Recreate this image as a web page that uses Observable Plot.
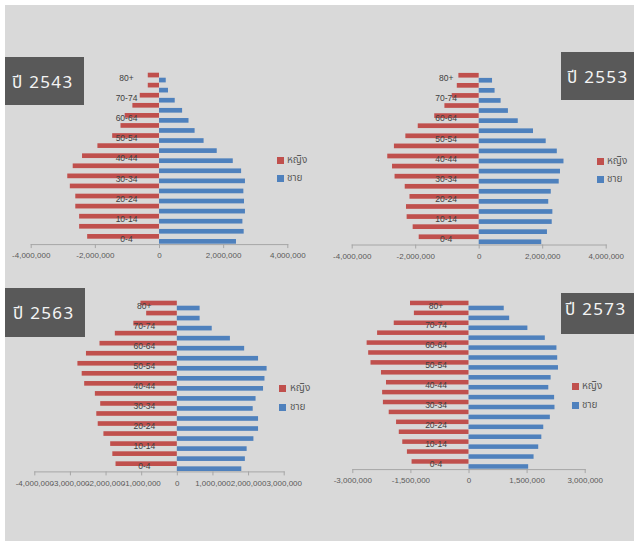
<!DOCTYPE html>
<html>
<head>
<meta charset="utf-8">
<script src="https://cdn.jsdelivr.net/npm/d3@7"></script>
<script src="https://cdn.jsdelivr.net/npm/@observablehq/plot@0.6"></script>
<style>
  body { margin: 0; background: #ffffff; }
  #wrap { position: relative; width: 634px; height: 542px; overflow: hidden; font-family: "Noto Sans Thai", "Tahoma", "Liberation Sans", sans-serif; }
  #bg { position: absolute; left: 5px; top: 5px; width: 629px; height: 536px; background: #d9d9d9; }
  .panel { position: absolute; }
  .box { position: absolute; background: #595959; }
  .ttl { position: absolute; color: #f4f4f4; font-size: 17px; line-height: 16px; letter-spacing: 1.3px; white-space: nowrap; }
  .sw { position: absolute; width: 7px; height: 7px; }
  .lg { position: absolute; font-size: 10px; line-height: 10px; color: #595959; white-space: nowrap; }
</style>
</head>
<body>
<div id="wrap"><div id="bg"></div></div>
<script>
// Age groups, bottom (0-4) to top (80+)
const ages = ["0-4","5-9","10-14","15-19","20-24","25-29","30-34","35-39","40-44","45-49","50-54","55-59","60-64","65-69","70-74","75-79","80+"];
const ageLabels = ["80+","70-74","60-64","50-54","40-44","30-34","20-24","10-14","0-4"];
const years = ["ปี 2543","ปี 2553","ปี 2563","ปี 2573"];
const seriesNames = ["หญิง","ชาย"];

// Female (หญิง) and male (ชาย) population per age group, ordered like `ages`
const female2543 = [2240000,2490000,2490000,2610000,2610000,2780000,2860000,2690000,2400000,1920000,1460000,1200000,1070000,830000,600000,350000,350000];
const male2543   = [2400000,2640000,2600000,2680000,2650000,2630000,2680000,2560000,2300000,1800000,1390000,1110000,920000,720000,490000,280000,210000];
const female2553 = [1890000,2080000,2270000,2290000,2180000,2330000,2650000,2730000,2880000,2670000,2310000,1920000,1400000,1080000,850000,690000,640000];
const male2553   = [1970000,2150000,2300000,2320000,2190000,2270000,2520000,2560000,2670000,2460000,2110000,1710000,1230000,920000,690000,500000,420000];
const female2563 = [1720000,1810000,1870000,2060000,2220000,2260000,2150000,2300000,2600000,2670000,2790000,2550000,2170000,1740000,1220000,860000,1020000];
const male2563   = [1810000,1910000,1960000,2150000,2280000,2280000,2130000,2210000,2420000,2460000,2520000,2280000,1890000,1490000,980000,640000,640000];
const female2573 = [1470000,1590000,1710000,1800000,1870000,2060000,2210000,2230000,2130000,2260000,2530000,2590000,2630000,2360000,1930000,1410000,1510000];
const male2573   = [1540000,1680000,1800000,1880000,1930000,2100000,2220000,2210000,2060000,2120000,2310000,2290000,2270000,1970000,1520000,1050000,910000];

// Axis tick values per panel
const ticks2543 = [-4000000,-2000000,0,2000000,4000000];
const ticks2553 = [-4000000,-2000000,0,2000000,4000000];
const ticks2563 = [-4000000,-3000000,-2000000,-1000000,0,1000000,2000000,3000000];
const ticks2573 = [-3000000,-1500000,0,1500000,3000000];

const RED = "#c0504d", BLUE = "#4f81bd";
const fmt = d => (d < 0 ? "-" : "") + d3.format(",")(Math.abs(d));

const panels = [
  {title: years[0], f: female2543, m: male2543, ticks: ticks2543, domain: [-4000000, 4000000],
   left: 0, top: 40, width: 320, height: 230, ml: 30.7, mr: 32.7, mt: 32.3, mb: 25.9,
   box: [5, 57, 79, 48], ttl: [12, 75], lg: [277, 157, 175, 287]},
  {title: years[1], f: female2553, m: male2553, ticks: ticks2553, domain: [-4000000, 4000000],
   left: 320, top: 40, width: 314, height: 230, ml: 31.7, mr: 28.3, mt: 32.5, mb: 25.5,
   box: [561, 52, 73, 48], ttl: [567, 70], lg: [597, 158, 176, 607]},
  {title: years[2], f: female2563, m: male2563, ticks: ticks2563, domain: [-4000000, 3000000],
   left: 0, top: 270, width: 320, height: 230, ml: 34.3, mr: 36.3, mt: 30.3, mb: 28.6,
   box: [5, 288, 80, 49], ttl: [13, 306], lg: [279, 385, 404, 290]},
  {title: years[3], f: female2573, m: male2573, ticks: ticks2573, domain: [-3000000, 3000000],
   left: 320, top: 270, width: 314, height: 230, ml: 32.3, mr: 49.3, mt: 30.3, mb: 30.9,
   box: [561, 293, 73, 41], ttl: [565, 302], lg: [572, 383, 402, 582]}
];

const wrap = document.getElementById("wrap");

for (const p of panels) {
  const rows = ages.map((a, i) => ({age: a, f: p.f[i], m: p.m[i]}));
  const chart = Plot.plot({
    width: p.width,
    height: p.height,
    marginLeft: p.ml,
    marginRight: p.mr,
    marginTop: p.mt,
    marginBottom: p.mb,
    style: {background: "transparent", fontFamily: "Liberation Sans, Arial, sans-serif"},
    x: {domain: p.domain, axis: null},
    y: {domain: ages.slice().reverse(), padding: 0.04, round: false, axis: null},
    marks: [
      Plot.barX(rows, {x: d => -d.f, y: "age", fill: RED, insetBottom: 5}),
      Plot.barX(rows, {x: "m", y: "age", fill: BLUE, insetTop: 5}),
      Plot.frame({anchor: "bottom", stroke: "#a6a6a6"}),
      Plot.axisX({ticks: p.ticks, tickFormat: fmt, tickSize: 4, tickPadding: 4, fontSize: 8, stroke: "#a6a6a6", fill: "#595959", label: null}),
      Plot.text(ageLabels, {x: 0, y: d => d, text: d => d, dx: -33, fontSize: 8.5, fill: "#404040"})
    ]
  });
  const holder = document.createElement("div");
  holder.className = "panel";
  holder.style.left = p.left + "px";
  holder.style.top = p.top + "px";
  holder.appendChild(chart);
  wrap.appendChild(holder);

  const box = document.createElement("div");
  box.className = "box";
  Object.assign(box.style, {left: p.box[0] + "px", top: p.box[1] + "px", width: p.box[2] + "px", height: p.box[3] + "px"});
  wrap.appendChild(box);

  const t = document.createElement("div");
  t.className = "ttl";
  t.textContent = p.title;
  Object.assign(t.style, {left: p.ttl[0] + "px", top: p.ttl[1] + "px"});
  wrap.appendChild(t);

  [[RED, p.lg[1], seriesNames[0]], [BLUE, p.lg[2], seriesNames[1]]].forEach(([c, y, name]) => {
    const s = document.createElement("div");
    s.className = "sw";
    Object.assign(s.style, {left: p.lg[0] + "px", top: y + "px", background: c});
    wrap.appendChild(s);
    const l = document.createElement("div");
    l.className = "lg";
    l.textContent = name;
    Object.assign(l.style, {left: p.lg[3] + "px", top: (y - 2) + "px"});
    wrap.appendChild(l);
  });
}
</script>
</body>
</html>
